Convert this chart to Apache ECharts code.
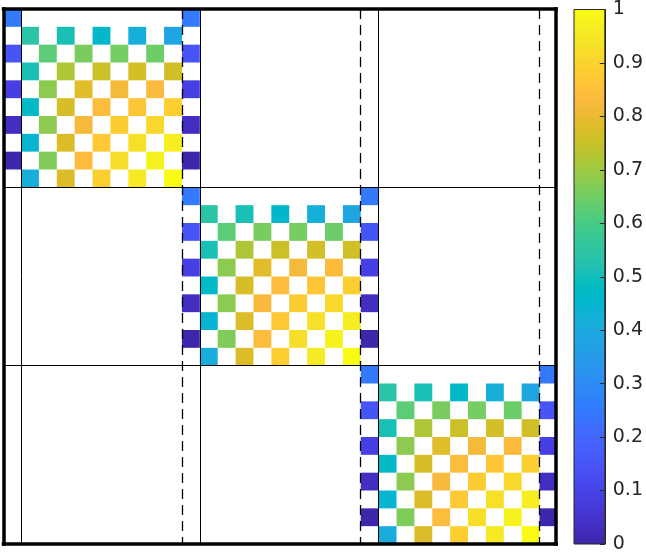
<!DOCTYPE html>
<html><head><meta charset="utf-8">
<script src="https://cdn.jsdelivr.net/npm/echarts@6/dist/echarts.min.js"></script>
<style>html,body{margin:0;padding:0;background:#fff}#c{width:646px;height:554px}</style>
</head><body><div id="c"></div>
<script>
// Parula colormap (64 entries)
const parula = ['#3e26a8','#402ab4','#422ec0','#4432cb','#4537d5','#463cde','#4741e5','#4747eb',
'#484df0','#4852f4','#4758f8','#465efb','#4563fd','#4269fe','#3e6fff','#3875fe',
'#327cfc','#2f81fa','#2e87f7','#2d8cf3','#2b91ef','#2796eb','#259be8','#23a0e5',
'#20a5e3','#1ca9df','#18addb','#12b1d6','#08b5d0','#01b8ca','#02bac3','#0bbdbd',
'#19bfb6','#24c1ae','#2cc4a7','#31c69f','#37c897','#3fca8e','#4acb84','#57cc7a',
'#64cd6f','#72cd64','#81cc59','#8fcb4e','#9dc943','#abc739','#b9c431','#c5c22a',
'#d1bf27','#dcbd29','#e6bb2d','#f0ba36','#f8ba3d','#febe3c','#fec338','#fec934',
'#fccf30','#fad62d','#f7dc2a','#f5e327','#f5e924','#f6ef20','#f7f51b','#f9fb15'];

// values of the two edge columns of each block (rows 0,2,4,6,8 of the block)
const edgeValues = [0.25, 0.15, 0.09, 0.035, 0.005];
// inner 9x9 part of each block (block rows 1..9, cols 1..9), null = empty
const innerValues = [
  [0.54, null, 0.51, null, 0.46, null, 0.42, null, 0.385],
  [null, 0.625, null, 0.66, null, 0.655, null, 0.645, null],
  [0.51, null, 0.72, null, 0.755, null, 0.765, null, 0.76],
  [null, 0.68, null, 0.785, null, 0.818, null, 0.833, null],
  [0.47, null, 0.77, null, 0.838, null, 0.865, null, 0.889],
  [null, 0.68, null, 0.825, null, 0.88, null, 0.913, null],
  [0.444, null, 0.778, null, 0.873, null, 0.93, null, 0.965],
  [null, 0.665, null, 0.835, null, 0.925, null, 0.975, null],
  [0.413, null, 0.778, null, 0.89, null, 0.955, null, 1.0]
];
const blockStarts = [0, 10, 20];
const blockSize = 10;
const solidLinesX = [0.5, 10.5, 20.5];
const dashedLinesX = [9.5, 19.5, 29.5];
const solidLinesY = [9.5, 19.5];
const colorbarLabels = ['0','0.1','0.2','0.3','0.4','0.5','0.6','0.7','0.8','0.9','1'];
const colorbarRange = [0, 1];

const cells = [];
blockStarts.forEach(s => {
  edgeValues.forEach((v, k) => {
    cells.push([s, s + 2 * k, v]);
    cells.push([s + blockSize, s + 2 * k, v]);
  });
  innerValues.forEach((row, i) => row.forEach((v, j) => {
    if (v !== null) cells.push([s + 1 + j, s + 1 + i, v]);
  }));
});

const chart = echarts.init(document.getElementById('c'));
const borderLine = {show: true, onZero: false, lineStyle: {color: '#000', width: 3.5, cap: 'square'}};
const hidden = {axisTick: {show: false}, axisLabel: {show: false}, splitLine: {show: false}};
const XR = {min: -0.48, max: 30.42};
const YR = {min: -0.5, max: 29.5};

chart.setOption({
  animation: false,
  grid: [
    {left: 3.5, top: 9, width: 552.5, height: 535},
    {left: 574, top: 9, width: 33, height: 535}
  ],
  xAxis: [
    Object.assign({gridIndex: 0, type: 'value', position: 'bottom', axisLine: borderLine, z: 10}, XR, hidden),
    Object.assign({gridIndex: 0, type: 'value', position: 'top', axisLine: borderLine, z: 10}, XR, hidden),
    {gridIndex: 1, type: 'value', min: 0, max: 1, show: false}
  ],
  yAxis: [
    Object.assign({gridIndex: 0, type: 'value', inverse: true, position: 'left', axisLine: borderLine, z: 10}, YR, hidden),
    Object.assign({gridIndex: 0, type: 'value', inverse: true, position: 'right', axisLine: borderLine, z: 10}, YR, hidden),
    {gridIndex: 1, type: 'value', min: colorbarRange[0], max: colorbarRange[1], interval: 0.1, position: 'right', z: 10,
     axisLine: {show: true, onZero: false, lineStyle: {color: '#262626', width: 1}},
     axisTick: {show: true, inside: true, length: 5, lineStyle: {color: '#262626', width: 1}},
     axisLabel: {margin: 8, fontFamily: 'DejaVu Sans', fontSize: 19, color: '#262626',
       formatter: v => colorbarLabels[Math.round(v * 10)]},
     splitLine: {show: false}}
  ],
  visualMap: {show: false, type: 'continuous', min: 0, max: 1, dimension: 2, seriesIndex: 0,
    inRange: {color: parula}},
  series: [
    {type: 'custom', xAxisIndex: 0, yAxisIndex: 0, data: cells, encode: {x: 0, y: 1}, clip: true, z: 2,
     renderItem: (params, api) => {
       const x = api.value(0), y = api.value(1);
       const p0 = api.coord([x - 0.5, y - 0.5]);
       const p1 = api.coord([x + 0.5, y + 0.5]);
       return {type: 'rect',
         shape: {x: Math.min(p0[0], p1[0]), y: Math.min(p0[1], p1[1]),
                 width: Math.abs(p1[0] - p0[0]), height: Math.abs(p1[1] - p0[1])},
         style: {fill: api.visual('color')}};
     }},
    {type: 'line', xAxisIndex: 0, yAxisIndex: 0, data: [], z: 5,
     markLine: {silent: true, symbol: 'none', label: {show: false}, animation: false,
       lineStyle: {color: '#000', width: 1, type: 'solid'},
       data: solidLinesX.map(x => ({xAxis: x})).concat(solidLinesY.map(y => ({yAxis: y})))}},
    {type: 'line', xAxisIndex: 0, yAxisIndex: 0, data: [], z: 5,
     markLine: {silent: true, symbol: 'none', label: {show: false}, animation: false,
       lineStyle: {color: '#000', width: 1.3, type: [10, 6]},
       data: dashedLinesX.map(x => ({xAxis: x}))}},
    {type: 'custom', xAxisIndex: 2, yAxisIndex: 2, data: [[colorbarRange[0], colorbarRange[0], colorbarRange[1], colorbarRange[1]]],
     renderItem: (params, api) => {
       const a = api.coord([api.value(0), api.value(1)]);
       const b = api.coord([api.value(2), api.value(3)]);
       return {type: 'rect',
         shape: {x: Math.min(a[0], b[0]), y: Math.min(a[1], b[1]),
                 width: Math.abs(b[0] - a[0]), height: Math.abs(b[1] - a[1])},
         style: {fill: new echarts.graphic.LinearGradient(0, 1, 0, 0,
                   parula.map((c, i) => ({offset: i / (parula.length - 1), color: c}))),
                 stroke: '#262626', lineWidth: 1}};
     }}
  ]
});
</script></body></html>
